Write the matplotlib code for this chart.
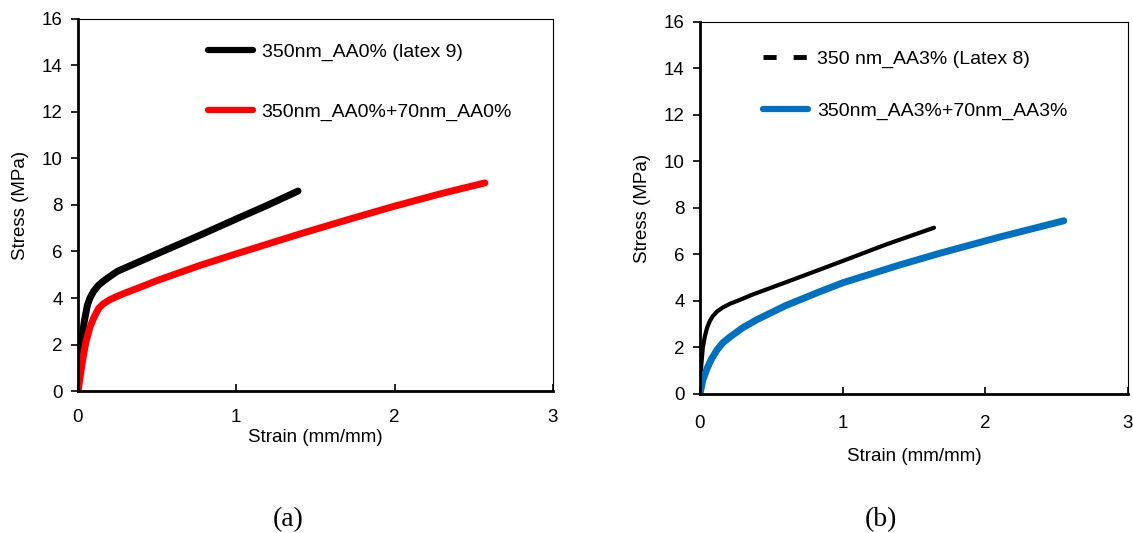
import matplotlib
matplotlib.use('Agg')
import matplotlib.pyplot as plt
from matplotlib.lines import Line2D

plt.rcParams['font.family'] = ['Liberation Sans', 'DejaVu Sans']

# (a) AA0% latexes
strain_a_350 = [0, 0.005, 0.01, 0.02, 0.03, 0.04, 0.06, 0.076, 0.1, 0.13, 0.16, 0.2, 0.25, 0.35, 0.5, 0.77, 1.0, 1.2, 1.39]
stress_a_350 = [0, 0.8, 1.4, 2.0, 2.5, 3.0, 3.7, 4.0, 4.3, 4.55, 4.72, 4.92, 5.15, 5.45, 5.9, 6.7, 7.4, 8.0, 8.6]
strain_a_mix = [0, 0.01, 0.02, 0.03, 0.05, 0.076, 0.1, 0.13, 0.16, 0.2, 0.25, 0.3, 0.37, 0.5, 0.77, 1.0, 1.4, 1.72, 2.0, 2.3, 2.57]
stress_a_mix = [0, 0.4, 0.9, 1.35, 2.1, 2.75, 3.15, 3.55, 3.75, 3.92, 4.08, 4.22, 4.4, 4.75, 5.4, 5.9, 6.75, 7.4, 7.95, 8.5, 8.95]

# (b) AA3% latexes
strain_b_350 = [0, 0.005, 0.01, 0.02, 0.035, 0.05, 0.07, 0.09, 0.12, 0.16, 0.21, 0.28, 0.37, 0.6, 0.84, 1.0, 1.3, 1.64]
stress_b_350 = [0, 0.8, 1.3, 2.0, 2.5, 2.85, 3.15, 3.35, 3.55, 3.72, 3.88, 4.05, 4.28, 4.8, 5.35, 5.72, 6.42, 7.15]
strain_b_mix = [0, 0.01, 0.02, 0.035, 0.05, 0.08, 0.12, 0.16, 0.21, 0.3, 0.4, 0.6, 0.84, 1.0, 1.4, 1.68, 2.1, 2.55]
stress_b_mix = [0, 0.3, 0.6, 0.85, 1.1, 1.5, 1.9, 2.2, 2.45, 2.85, 3.2, 3.8, 4.4, 4.78, 5.55, 6.05, 6.75, 7.45]

labels_a = ['350nm_AA0% (latex 9)', '350nm_AA0%+70nm_AA0%']
labels_b = ['350 nm_AA3% (Latex 8)', '350nm_AA3%+70nm_AA3%']

fig = plt.figure(figsize=(11.33, 5.33), dpi=100)
ax1 = fig.add_axes([0.0688, 0.2664, 0.4193, 0.698])
ax2 = fig.add_axes([0.6178, 0.2608, 0.3778, 0.698])


def style_axes(ax, xlabel_pad, xtick_pad):
    ax.set_xlim(0, 3)
    ax.set_ylim(0, 16)
    ax.set_xticks([0, 1, 2, 3])
    ax.set_yticks(range(0, 17, 2))
    ax.spines['left'].set_linewidth(2.0)
    ax.spines['bottom'].set_linewidth(2.0)
    ax.spines['top'].set_linewidth(0.8)
    ax.spines['right'].set_linewidth(0.8)
    ax.tick_params(axis='x', direction='in', length=5, width=1.2, pad=xtick_pad, labelsize=13.5)
    ax.tick_params(axis='y', direction='out', length=5, width=1.2, pad=6, labelsize=13.5)
    ax.set_xlabel('Strain (mm/mm)', fontsize=13.5, labelpad=xlabel_pad)
    ax.set_ylabel('Stress (MPa)', fontsize=13.5, labelpad=9)


ax1.plot(strain_a_350, stress_a_350, color='black', lw=5, solid_capstyle='round', solid_joinstyle='round')
ax1.plot(strain_a_mix, stress_a_mix, color='#ff0000', lw=5, solid_capstyle='round', solid_joinstyle='round')
style_axes(ax1, 2, 13)
handles_a = [Line2D([], [], color='black', lw=4.5, solid_capstyle='round'),
             Line2D([], [], color='#ff0000', lw=4.5, solid_capstyle='round')]
ax1.legend(handles_a, labels_a, loc='upper left', bbox_to_anchor=(0.274, 0.935),
           frameon=False, fontsize=14, handlelength=2.3, handletextpad=0.45,
           labelspacing=2.15, borderpad=0, borderaxespad=0)

ax2.plot(strain_b_350, stress_b_350, color='black', lw=3, solid_capstyle='round', solid_joinstyle='round')
ax2.plot(strain_b_mix, stress_b_mix, color='#0070c0', lw=5, solid_capstyle='round', solid_joinstyle='round')
style_axes(ax2, 12, 15)
handles_b = [Line2D([], [], color='black', lw=3.5, linestyle=(0, (2.7, 3.5)), dash_capstyle='butt'),
             Line2D([], [], color='#0070c0', lw=4.5, solid_capstyle='round')]
ax2.legend(handles_b, labels_b, loc='upper left', bbox_to_anchor=(0.147, 0.925),
           frameon=False, fontsize=14, handlelength=2.3, handletextpad=0.5,
           labelspacing=1.8, borderpad=0, borderaxespad=0)

fig.text(288 / 1133, 1 - 520 / 533, '(a)', family='Liberation Serif', fontsize=20,
         ha='center', va='center')
fig.text(881 / 1133, 1 - 520 / 533, '(b)', family='Liberation Serif', fontsize=20,
         ha='center', va='center')

fig.savefig('out.png', dpi=100)
